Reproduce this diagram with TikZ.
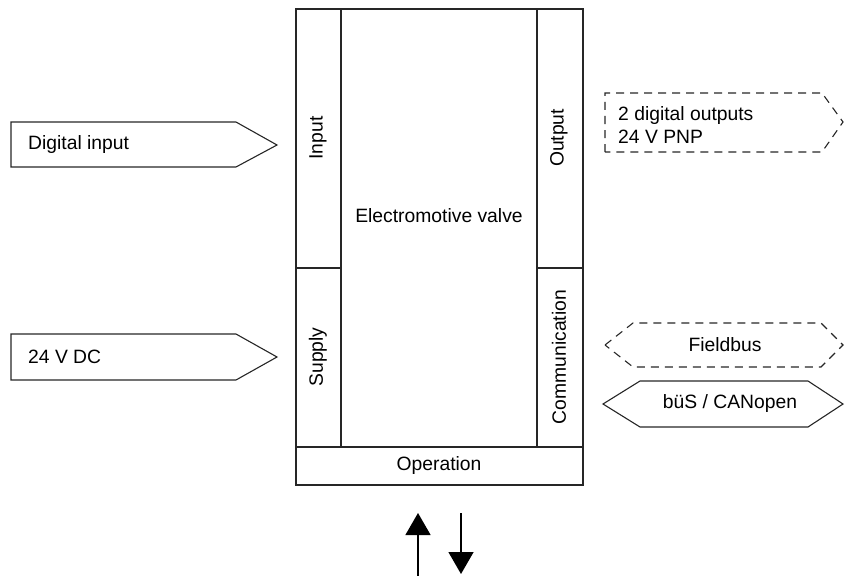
\documentclass[tikz,border=0pt]{standalone}
\usepackage{fontspec}
\setmainfont{Liberation Sans}
\usetikzlibrary{arrows.meta}
\tikzset{
    lbl/.style={font=\fontsize{19.3}{23}\selectfont, inner sep=0pt},
    edge/.style={draw=black!85, line width=1.1pt},
    dashedge/.style={draw=black!85, line width=1.1pt, dash pattern=on 8pt off 6pt},
    bigarrow/.style={draw=black, line width=1.4pt, -{Triangle[width=25pt,length=22pt]}}
}
\begin{document}
\begin{tikzpicture}[x=1pt,y=-1pt]
        \useasboundingbox (0,0) rectangle (845,575);
        % main block
        \draw [edge] (296,9) rectangle (583,485);
        \draw [edge] (341,9) -- (341,447);
        \draw [edge] (537,9) -- (537,447);
        \draw [edge] (296,447) -- (583,447);
        \draw [edge] (296,268) -- (341,268);
        \draw [edge] (537,268) -- (583,268);
        \node [lbl, rotate=90] (input) at (318,138) {Input};
        \node [lbl, rotate=90] (supply) at (318,357) {Supply};
        \node [lbl, rotate=90] (output) at (559,138) {Output};
        \node [lbl, rotate=90] (comm) at (559,357) {Communication};
        \node [lbl] (valve) at (439,216) {Electromotive valve};
        \node [lbl] (oper) at (439,466) {Operation};
        % inputs
        \draw [edge] (11,122) -- (236,122) -- (277,145) -- (236,167) -- (11,167) -- cycle;
        \node [lbl, anchor=west] (din) at (28,145) {Digital input};
        \draw [edge] (11,334) -- (236,334) -- (277,357) -- (236,380) -- (11,380) -- cycle;
        \node [lbl, anchor=west] (dc) at (28,357) {24 V DC};
        % outputs
        \draw [dashedge] (605,152) -- (605,93) -- (822,93) -- (843,122) -- (822,152) -- cycle;
        \node [lbl, anchor=west, align=left] (dout) at (618,125) {2 digital outputs\\24 V PNP};
        \draw [dashedge] (605,345) -- (633,323) -- (821,323) -- (843,345) -- (821,367) -- (633,367) -- cycle;
        \node [lbl] (fbus) at (725,345) {Fieldbus};
        \draw [edge] (603,404) -- (640,381) -- (808,381) -- (843,404) -- (808,427) -- (640,427) -- cycle;
        \node [lbl] (bus) at (730,404) {büS / CANopen};
        % operation arrows
        \coordinate (up0) at (418,577);
        \coordinate (up1) at (418,513);
        \coordinate (dn0) at (461,513);
        \coordinate (dn1) at (461,574);
        \draw [bigarrow] (up0) -- (up1);
        \draw [bigarrow] (dn0) -- (dn1);
    \end{tikzpicture}
\end{document}
